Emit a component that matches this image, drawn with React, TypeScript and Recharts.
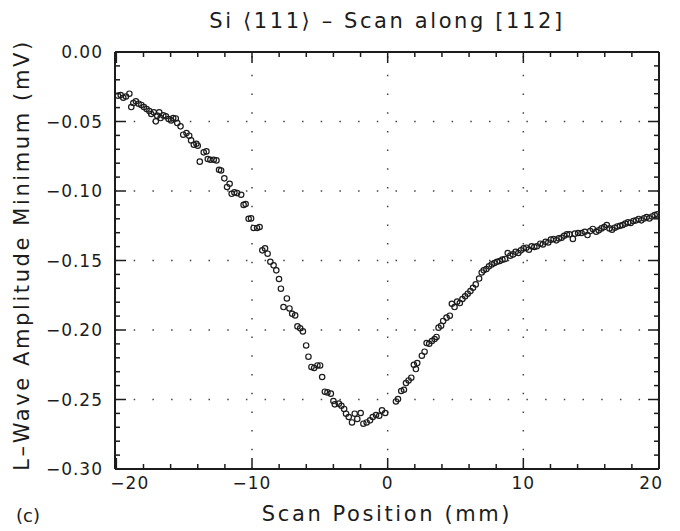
import React from 'react';
import { ScatterChart, Scatter, XAxis, YAxis, ReferenceLine } from 'recharts';

// scan position (mm) and L-wave amplitude minimum (mV)
const scanPos = [
  -19.88, -19.68, -19.49, -19.29, -19.04, -18.9, -18.75, -18.56, -18.36, -18.16,
  -17.97, -17.77, -17.57, -17.43, -17.24, -17.09, -16.99, -16.84, -16.74, -16.54,
  -16.35, -16.15, -15.96, -15.81, -15.62, -15.51, -15.27, -15.07, -14.83, -14.63,
  -14.49, -14.29, -14.1, -14.0, -13.85, -13.56, -13.36, -13.26, -13.07, -12.82,
  -12.62, -12.43, -12.28, -12.04, -11.84, -11.65, -11.5, -11.3, -11.1, -10.8,
  -10.62, -10.47, -10.25, -10.07, -9.88, -9.63, -9.44, -9.24, -9.04, -8.85,
  -8.65, -8.41, -8.21, -8.01, -7.87, -7.68, -7.43, -7.24, -7.04, -6.82,
  -6.65, -6.45, -6.25, -6.01, -5.84, -5.62, -5.42, -5.18, -4.98, -4.83,
  -4.63, -4.44, -4.19, -4.0, -3.9, -3.6, -3.41, -3.21, -3.07, -2.87,
  -2.63, -2.43, -2.24, -1.99, -1.79, -1.55, -1.3, -1.1, -0.86, -0.62,
  -0.42, -0.18, 0.61, 0.76, 1.0, 1.2, 1.35, 1.54, 1.74, 1.93,
  2.08, 2.18, 2.52, 2.72, 2.87, 3.06, 3.26, 3.46, 3.6, 3.75,
  3.94, 4.09, 4.34, 4.58, 4.73, 4.93, 5.12, 5.32, 5.51, 5.71,
  5.9, 6.1, 6.29, 6.49, 6.74, 6.93, 7.08, 7.28, 7.47, 7.67,
  7.87, 8.06, 8.26, 8.46, 8.65, 8.85, 9.04, 9.24, 9.43, 9.63,
  9.82, 10.02, 10.22, 10.41, 10.61, 10.81, 11.0, 11.25, 11.44, 11.64,
  11.84, 12.03, 12.23, 12.43, 12.62, 12.82, 13.01, 13.21, 13.4, 13.65,
  13.8, 14.04, 14.29, 14.53, 14.73, 14.93, 15.12, 15.37, 15.56, 15.76,
  15.96, 16.15, 16.35, 16.54, 16.74, 16.93, 17.13, 17.32, 17.52, 17.72,
  17.91, 18.11, 18.31, 18.5, 18.7, 18.9, 19.09, 19.29, 19.49, 19.68,
  19.88,
];

const amplitude = [
  -0.0314, -0.031, -0.0329, -0.032, -0.03, -0.0396, -0.0367, -0.0355, -0.0372, -0.0381,
  -0.0396, -0.041, -0.0425, -0.0446, -0.0434, -0.0499, -0.0458, -0.0434, -0.0475, -0.0456,
  -0.0463, -0.0482, -0.0492, -0.0475, -0.0478, -0.0511, -0.0535, -0.0595, -0.0583, -0.0602,
  -0.0636, -0.0667, -0.066, -0.0674, -0.0789, -0.0722, -0.0715, -0.077, -0.0775, -0.0775,
  -0.078, -0.0847, -0.0852, -0.0909, -0.0971, -0.0948, -0.102, -0.101, -0.1015, -0.1027,
  -0.11, -0.1094, -0.12, -0.1197, -0.1266, -0.1266, -0.1259, -0.1427, -0.1413, -0.1451,
  -0.1509, -0.1535, -0.1571, -0.1633, -0.1703, -0.1835, -0.1773, -0.1845, -0.1883, -0.1895,
  -0.1974, -0.1988, -0.201, -0.2111, -0.2192, -0.2266, -0.2273, -0.2255, -0.2255, -0.2338,
  -0.2444, -0.2449, -0.2458, -0.2511, -0.2535, -0.253, -0.2545, -0.2568, -0.2602, -0.2626,
  -0.2665, -0.2602, -0.264, -0.2597, -0.2674, -0.2665, -0.265, -0.2626, -0.2612, -0.2617,
  -0.2578, -0.2597, -0.2514, -0.2497, -0.2439, -0.243, -0.2382, -0.2363, -0.2343, -0.225,
  -0.2281, -0.2238, -0.2185, -0.2156, -0.2094, -0.2099, -0.2079, -0.2065, -0.205, -0.1983,
  -0.1969, -0.1935, -0.1911, -0.1897, -0.1811, -0.1835, -0.1796, -0.1806, -0.1777, -0.1758,
  -0.1739, -0.172, -0.1696, -0.1672, -0.163, -0.1586, -0.1571, -0.1561, -0.1542, -0.1528,
  -0.1518, -0.1509, -0.1504, -0.1494, -0.1489, -0.1446, -0.1465, -0.1456, -0.1437, -0.1446,
  -0.1427, -0.1413, -0.1408, -0.1422, -0.1398, -0.1403, -0.1398, -0.1379, -0.1384, -0.1365,
  -0.137, -0.135, -0.1345, -0.1355, -0.1341, -0.1336, -0.1322, -0.1312, -0.1312, -0.1345,
  -0.1307, -0.1302, -0.1302, -0.1293, -0.1317, -0.1288, -0.1273, -0.1293, -0.1283, -0.1269,
  -0.1259, -0.1245, -0.1269, -0.1278, -0.1264, -0.1255, -0.125, -0.1245, -0.1235, -0.1226,
  -0.123, -0.1216, -0.1211, -0.1201, -0.1211, -0.1197, -0.1187, -0.1197, -0.1183, -0.1173,
  -0.1168,
];

const xTicks = [-20, -18, -16, -14, -12, -10, -8, -6, -4, -2, 0, 2, 4, 6, 8, 10, 12, 14, 16, 18, 20];
const xLabelTicks = [-20, -10, 0, 10, 20];
const yTicks = [
  -0.3, -0.29, -0.28, -0.27, -0.26, -0.25, -0.24, -0.23, -0.22, -0.21, -0.2,
  -0.19, -0.18, -0.17, -0.16, -0.15, -0.14, -0.13, -0.12, -0.11, -0.1,
  -0.09, -0.08, -0.07, -0.06, -0.05, -0.04, -0.03, -0.02, -0.01, 0,
];
const xGrid = [-10, 0, 10];
const yGrid = [-0.25, -0.2, -0.15, -0.1, -0.05];

const data = scanPos.map((x, i) => ({ x, y: amplitude[i] }));

const W = 680;
const H = 531;
const PLOT_L = 115;
const PLOT_R = 659;
const PLOT_T = 52;
const PLOT_B = 469;
const PLOT_W = PLOT_R - PLOT_L;
const PLOT_H = PLOT_B - PLOT_T;

const FONT = '"DejaVu Sans", sans-serif';
const INK = '#1c1c1c';

const minus = (s: string) => s.replace('-', '\u2212');

const XTick = (props: any) => {
  const { x, y, payload } = props;
  const v = payload.value;
  const major = xLabelTicks.includes(v);
  const len = major ? 11 : 5;
  // the end labels are pulled inside the frame, like the original plot
  let anchor = 'middle';
  let tx = x;
  if (v === xLabelTicks[0]) {
    anchor = 'start';
    tx = x - 6;
  } else if (v === xLabelTicks[xLabelTicks.length - 1]) {
    anchor = 'end';
    tx = x + 4;
  }
  return (
    <g>
      <line x1={x} x2={x} y1={y} y2={y - len} stroke={INK} strokeWidth={1.5} />
      <line x1={x} x2={x} y1={y - PLOT_H} y2={y - PLOT_H + len} stroke={INK} strokeWidth={1.5} />
      {major && (
        <text x={tx} y={y + 20} textAnchor={anchor} fontSize={17} fontFamily={FONT} fill={INK} letterSpacing={1}>
          {minus(String(v))}
        </text>
      )}
    </g>
  );
};

const YTick = (props: any) => {
  const { x, y, payload } = props;
  const v = payload.value;
  const major = Math.abs(Math.round(v * 100)) % 5 === 0;
  const len = major ? 11 : 5;
  return (
    <g>
      <line x1={x} x2={x + len} y1={y} y2={y} stroke={INK} strokeWidth={1.5} />
      <line x1={x + PLOT_W} x2={x + PLOT_W - len} y1={y} y2={y} stroke={INK} strokeWidth={1.5} />
      {major && (
        <text x={x - 12} y={y + 6} textAnchor="end" fontSize={17} fontFamily={FONT} fill={INK} letterSpacing={1}>
          {minus(v.toFixed(2))}
        </text>
      )}
    </g>
  );
};

const Ring = (props: any) => (
  <circle cx={props.cx} cy={props.cy} r={2.7} fill="none" stroke={INK} strokeWidth={1.2} />
);

export default function App() {
  return (
    <div style={{ position: 'fixed', left: 0, top: 0, width: W, height: H, background: '#fff' }}>
      <ScatterChart
        width={W}
        height={H}
        margin={{ top: PLOT_T, right: W - PLOT_R, bottom: H - PLOT_B - 30, left: PLOT_L - 60 }}
      >
        <XAxis
          type="number"
          dataKey="x"
          domain={[-20.1, 20]}
          allowDataOverflow
          ticks={xTicks}
          interval={0}
          tickLine={false}
          tickSize={0}
          tickMargin={0}
          tick={<XTick />}
          height={30}
          axisLine={{ stroke: INK, strokeWidth: 2 }}
        />
        <YAxis
          type="number"
          dataKey="y"
          domain={[-0.3, 0]}
          allowDataOverflow
          ticks={yTicks}
          interval={0}
          tickLine={false}
          tickSize={0}
          tickMargin={0}
          tick={<YTick />}
          width={60}
          axisLine={{ stroke: INK, strokeWidth: 2 }}
        />
        {xGrid.map((g) => (
          <ReferenceLine key={'gx' + g} x={g} stroke="#444" strokeWidth={1.5} strokeDasharray="1.5 17.2" />
        ))}
        {yGrid.map((g) => (
          <ReferenceLine key={'gy' + g} y={g} stroke="#444" strokeWidth={1.5} strokeDasharray="1.5 17.2" />
        ))}
        <ReferenceLine y={0} stroke={INK} strokeWidth={2} />
        <ReferenceLine x={20} stroke={INK} strokeWidth={2} />
        <Scatter data={data} shape={<Ring />} isAnimationActive={false} />
        <text x={(PLOT_L + PLOT_R) / 2} y={28} textAnchor="middle" fontSize={21} fontFamily={FONT} fill={INK} letterSpacing={2.6}>
          Si ⟨111⟩ – Scan along [112]
        </text>
        <text x={(PLOT_L + PLOT_R) / 2} y={521} textAnchor="middle" fontSize={21} fontFamily={FONT} fill={INK} letterSpacing={2.6}>
          Scan Position (mm)
        </text>
        <text
          x={22}
          y={255}
          transform="rotate(-90 22 255)"
          textAnchor="middle"
          dominantBaseline="central"
          fontSize={21}
          fontFamily={FONT}
          fill={INK}
          letterSpacing={2.6}
        >
          L–Wave Amplitude Minimum (mV)
        </text>
        <text x={16} y={522} fontSize={18} fontFamily={FONT} fill={INK}>
          (c)
        </text>
      </ScatterChart>
    </div>
  );
}
